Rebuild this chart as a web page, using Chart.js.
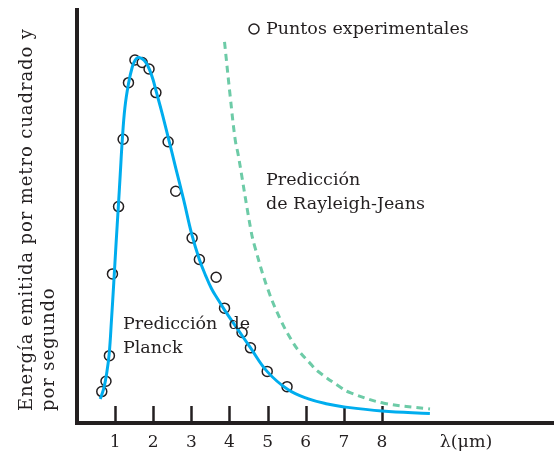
<!DOCTYPE html>
<html>
<head>
<meta charset="utf-8">
<script src="https://cdn.jsdelivr.net/npm/chart.js@4.4.0/dist/chart.umd.min.js"></script>
<style>
  html, body { margin: 0; padding: 0; background: #fff; }
  #wrap { width: 560px; height: 457px; }
</style>
</head>
<body>
<div id="wrap"><canvas id="chartCanvas"></canvas></div>
<script>
  // Experimental points (wavelength in µm, relative energy)
  const pointsX = [0.65, 0.76, 0.85, 0.93, 1.09, 1.21, 1.35, 1.52, 1.71, 1.89, 2.07,
                   2.39, 2.59, 3.02, 3.21, 3.65, 3.87, 4.33, 4.55, 4.99, 5.51];
  const pointsY = [7.6, 10.1, 16.3, 36.1, 52.4, 68.7, 82.4, 87.9, 87.3, 85.7, 80.0,
                   68.1, 56.1, 44.8, 39.6, 35.3, 27.8, 21.9, 18.2, 12.5, 8.8];

  // Planck prediction
  const planckX = [0.61, 0.70, 0.775, 0.845, 0.905, 0.965, 1.025, 1.085, 1.135, 1.185, 1.256,
                   1.354, 1.45, 1.528, 1.606, 1.71, 1.814, 1.905, 1.996, 2.074, 2.23, 2.407,
                   2.589, 2.797, 3.013, 3.21, 3.374, 3.53, 3.686, 3.868, 4.231, 4.544, 4.986,
                   5.532, 6.052, 6.572, 7.006, 8.0, 9.257];
  const planckY = [5.8, 8.3, 11.8, 16.8, 25.0, 34.0, 43.5, 52.5, 60.3, 68.1, 76.3,
                   82.3, 86.2, 87.9, 88.5, 88.2, 87.2, 85.5, 83.1, 80.4, 75.1, 68.6,
                   61.8, 54.1, 45.6, 39.6, 35.7, 32.5, 30.1, 27.4, 22.5, 18.3, 12.5,
                   8.1, 5.9, 4.6, 3.9, 2.9, 2.3];

  // Rayleigh-Jeans prediction
  const rjX = [3.87, 4.02, 4.15, 4.23, 4.56, 4.67, 5.01, 5.36, 5.62, 5.79, 6.14,
               6.31, 6.92, 7.18, 8.05, 9.26];
  const rjY = [92.3, 79.0, 68.6, 64.9, 46.8, 42.5, 32.3, 24.6, 20.2, 17.8, 14.2,
               12.6, 8.6, 7.3, 4.8, 3.4];

  const tickValues = [1, 2, 3, 4, 5, 6, 7, 8];
  const xAxisLabel = "λ(μm)";
  const yTitleLines = ["Energía emitida por metro cuadrado y", "por segundo"];
  const legendText = "Puntos experimentales";
  const rjLabel = ["Predicción", "de Rayleigh-Jeans"];
  const planckLabel = ["Predicción  de", "Planck"];

  const FONT = "'DejaVu Serif', serif";
  const INK = "#231f20";

  const toXY = (xs, ys) => xs.map((x, i) => ({ x: x, y: ys[i] }));

  // Tick marks sit above the axis line, inside the plot
  const innerTicks = {
    id: "innerTicks",
    beforeDatasetsDraw(chart) {
      const ctx = chart.ctx;
      const xs = chart.scales.x;
      const bottom = chart.chartArea.bottom;
      ctx.save();
      ctx.strokeStyle = INK;
      ctx.lineWidth = 2.5;
      tickValues.forEach(v => {
        const px = Math.round(xs.getPixelForValue(v)) + 0.5;
        ctx.beginPath();
        ctx.moveTo(px, bottom - 17);
        ctx.lineTo(px, bottom);
        ctx.stroke();
      });
      ctx.restore();
    }
  };

  // Text annotations
  const labels = {
    id: "labels",
    afterDraw(chart) {
      const ctx = chart.ctx;
      ctx.save();
      ctx.fillStyle = INK;
      ctx.textBaseline = "middle";
      ctx.textAlign = "left";

      // legend
      ctx.beginPath();
      ctx.arc(254, 29, 5, 0, Math.PI * 2);
      ctx.fillStyle = "#fff";
      ctx.fill();
      ctx.lineWidth = 1.5;
      ctx.strokeStyle = INK;
      ctx.stroke();
      ctx.fillStyle = INK;
      ctx.font = "17.5px " + FONT;
      ctx.fillText(legendText, 266, 29);

      ctx.fillText(rjLabel[0], 266, 180);
      ctx.fillText(rjLabel[1], 266, 204);
      ctx.fillText(planckLabel[0], 123, 324);
      ctx.fillText(planckLabel[1], 123, 348);

      ctx.textAlign = "center";
      ctx.fillText(xAxisLabel, 466, 442);

      // y title
      ctx.translate(27, 411);
      ctx.rotate(-Math.PI / 2);
      ctx.textAlign = "left";
      ctx.font = "18px " + FONT;
      ctx.letterSpacing = "0.9px";
      ctx.fillText(yTitleLines[0], 0, 0);
      ctx.fillText(yTitleLines[1], 0, 22);
      ctx.restore();
    }
  };

  const chart = new Chart(document.getElementById("chartCanvas"), {
    type: "scatter",
    data: {
      datasets: [
        {
          label: "Rayleigh-Jeans",
          data: toXY(rjX, rjY),
          showLine: true,
          borderColor: "#6dcba7",
          borderWidth: 3,
          borderDash: [7, 5],
          pointRadius: 0,
          tension: 0.4
        },
        {
          label: "Planck",
          data: toXY(planckX, planckY),
          showLine: true,
          borderColor: "#00adee",
          borderWidth: 3,
          pointRadius: 0,
          tension: 0.4
        },
        {
          label: "Puntos experimentales",
          data: toXY(pointsX, pointsY),
          pointRadius: 5,
          pointBorderWidth: 1.5,
          pointBackgroundColor: "#fff",
          pointBorderColor: INK
        }
      ]
    },
    options: {
      responsive: true,
      maintainAspectRatio: false,
      animation: false,
      layout: { padding: { top: 10, right: 2, left: 0, bottom: 0 } },
      plugins: { legend: { display: false }, tooltip: { enabled: false } },
      scales: {
        x: {
          type: "linear",
          min: 0,
          max: 12.5,
          afterBuildTicks: scale => { scale.ticks = tickValues.map(v => ({ value: v })); },
          afterFit: scale => { scale.height = 34; },
          grid: { display: false },
          border: { display: true, width: 4, color: INK },
          ticks: { color: INK, font: { family: FONT, size: 17 }, padding: 1 }
        },
        y: {
          type: "linear",
          min: 0,
          max: 100,
          afterFit: scale => { scale.width = 77; },
          grid: { display: false },
          border: { display: true, width: 4, color: INK },
          ticks: { display: false }
        }
      }
    },
    plugins: [innerTicks, labels]
  });
</script>
</body>
</html>
